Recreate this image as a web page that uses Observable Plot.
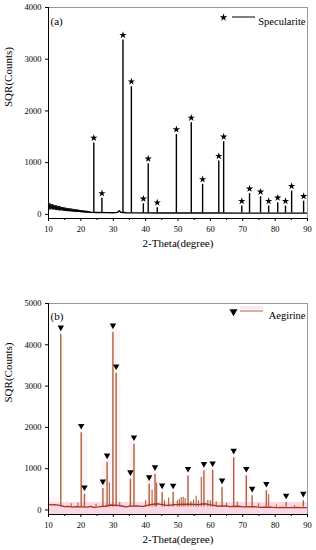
<!DOCTYPE html>
<html><head><meta charset="utf-8">
<script src="https://cdn.jsdelivr.net/npm/d3@7"></script>
<script src="https://cdn.jsdelivr.net/npm/@observablehq/plot@0.6"></script>
<style>
html,body{margin:0;padding:0;background:#fff;}
#chart{width:316px;height:550px;}
#chart svg{display:block;}
#chart svg text{font-family:'Liberation Serif','Times New Roman',serif !important;}
</style></head><body><div id="chart"></div>
<script>
// ---- shared axes ----
const xTicks = [10, 20, 30, 40, 50, 60, 70, 80, 90];
const xMinorTicks = [15, 25, 35, 45, 55, 65, 75, 85];
const xTitle = "2-Theta(degree)";
const yTitle = "SQR(Counts)";

// ---- panel (a): Specularite ----
const specYTicks = [0, 1000, 2000, 3000, 4000];
const specPeakTheta  = [24.0, 26.5, 33.0, 35.6, 39.3, 40.8, 43.6, 49.5, 54.1, 57.6, 62.6, 64.1, 69.7, 72.1, 75.5, 78.0, 80.8, 83.2, 85.1, 88.8];
const specPeakCounts = [1380, 310, 3370, 2470, 205, 980, 130, 1545, 1770, 580, 1030, 1405, 160, 400, 340, 160, 225, 160, 450, 255];
const specBgTheta  = [10, 11, 12, 13, 14, 15, 16, 17, 18, 19, 20, 21, 22, 23, 25, 28, 30, 31.3, 31.8, 32.3, 34, 38, 45, 50, 60, 70, 80, 90];
const specBgCounts = [150, 140, 128, 115, 105, 95, 86, 78, 70, 63, 56, 50, 45, 40, 36, 33, 30, 38, 70, 40, 30, 28, 26, 25, 25, 24, 24, 24];
const specNoiseTheta = [10, 10.5, 11, 11.5, 12, 12.5, 13, 13.5, 14, 15, 16, 17, 18, 19, 20, 21, 22, 23];
const specNoiseLo    = [100, 80, 95, 78, 84, 70, 76, 62, 68, 56, 52, 44, 42, 36, 34, 30, 28, 26];
const specNoiseHi    = [205, 215, 185, 190, 168, 172, 150, 155, 138, 128, 112, 108, 94, 88, 76, 68, 58, 50];

// ---- panel (b): Aegirine ----
const aegYTicks = [0, 1000, 2000, 3000, 4000, 5000];
const aegPeakTheta  = [13.8, 20.1, 21.1, 26.8, 28.1, 29.9, 30.9, 35.3, 36.4, 41.1, 42.9, 45.1, 48.5, 53.1, 58.0, 60.7, 63.6, 67.2, 71.1, 72.9, 77.3, 83.4, 88.7];
const aegPeakCounts = [4250, 1870, 380, 520, 1150, 4300, 3310, 745, 1590, 625, 865, 425, 420, 825, 945, 960, 545, 1265, 825, 345, 465, 180, 225];
const aegMinorTheta  = [17.0, 19.1, 24.7, 28.8, 32.0, 40.0, 42.0, 43.4, 45.8, 47.1, 49.8, 50.4, 51.0, 51.6, 52.2, 54.0, 54.8, 55.6, 56.3, 57.2, 59.2, 60.0, 61.8, 65.0, 68.3, 74.9, 78.0, 80.4, 86.0];
const aegMinorCounts = [150, 170, 140, 660, 180, 230, 480, 650, 220, 290, 220, 260, 300, 310, 280, 200, 240, 330, 220, 785, 230, 220, 200, 160, 190, 150, 370, 120, 110];
const aegBgTheta  = [10, 11, 12, 13, 13.5, 14.5, 15, 16, 17.5, 18.5, 20.5, 22, 23, 24, 25.5, 26, 27.5, 29.2, 31.5, 33, 34, 35, 37.5, 38.5, 39.5, 41.5, 43.8, 46.5, 48, 49, 53.5, 56, 58.5, 59.5, 61.2, 62.5, 64.5, 66, 68.8, 70, 73.5, 75.5, 76.5, 79, 81, 82, 84, 86.5, 88, 90];
const aegBgCounts = [135, 125, 130, 115, 110, 90, 80, 85, 70, 80, 75, 70, 85, 65, 75, 80, 90, 120, 110, 90, 75, 95, 100, 85, 90, 130, 150, 110, 120, 130, 140, 130, 150, 130, 110, 90, 100, 80, 90, 75, 80, 65, 70, 65, 55, 60, 55, 60, 55, 55];
const aegPinkX1  = [10, 19.8, 26.3, 29.4, 35.0, 40.5, 52.6, 56.8, 66.6, 70.5, 76.7];
const aegPinkX2  = [13.3, 22.3, 29.2, 32.2, 37.2, 44.0, 53.8, 61.4, 68.0, 72.0, 78.5];
const aegPinkTop = [300, 1900, 1200, 4350, 1650, 900, 850, 1000, 1300, 850, 500];
const aegPinkBandTop = 180;

const FONT = "'Liberation Serif', 'Times New Roman', serif";
const specColor = "#000";
const aegColor = "#b0603a";
const aegBaseColor = "#a8341f";
const pink = "#f9cfe0";

// downward-pointing triangle symbol
const triangleDown = {
  draw(context, size) {
    const s = Math.sqrt(size / 0.433);
    const h = s * Math.sqrt(3) / 2;
    context.moveTo(-s / 2, -h / 3);
    context.lineTo(s / 2, -h / 3);
    context.lineTo(0, 2 * h / 3);
    context.closePath();
  }
};

function legendLine(x1, x2, dyTop, color, withPink) {
  return (index, scales, values, dims) => {
    const g = d3.create("svg:g");
    const y = dims.marginTop + dyTop;
    if (withPink) g.append("rect").attr("x", x1).attr("y", y - 5).attr("width", x2 - x1).attr("height", 3).attr("fill", pink).attr("opacity", 0.5);
    g.append("line").attr("x1", x1).attr("x2", x2).attr("y1", y).attr("y2", y).attr("stroke", color).attr("stroke-width", 1);
    return g.node();
  };
}

function commonMarks(yDomain, yTicks, yTitleDy) {
  return [
    Plot.frame({stroke: "#9a9a9a"}),
    Plot.ruleX([10], {stroke: "#000", strokeWidth: 1}),
    Plot.ruleY([yDomain[0]], {stroke: "#000", strokeWidth: 1}),
    Plot.axisX({ticks: xTicks, tickSize: 3, tickPadding: 4.5, label: null, fontSize: 8.5}),
    Plot.axisX({ticks: xMinorTicks, tickSize: 2, tickFormat: () => "", label: null}),
    Plot.axisY({ticks: yTicks, tickSize: 3, tickPadding: 4, tickFormat: "d", label: null, fontSize: 8.5}),
    Plot.text([xTitle], {frameAnchor: "bottom", dy: 28, fontSize: 11}),
    Plot.text([yTitle], {frameAnchor: "left", rotate: -90, dx: -40.5, dy: yTitleDy, fontSize: 11})
  ];
}

// ---- panel (a) ----
const specPeaks = specPeakTheta.map((t, i) => ({theta: t, counts: specPeakCounts[i]}));
const specBg = specBgTheta.map((t, i) => ({theta: t, counts: specBgCounts[i]}));
const specNoise = specNoiseTheta.map((t, i) => ({theta: t, lo: specNoiseLo[i], hi: specNoiseHi[i]}));
const specDomain = [-80, 4000];

const plotA = Plot.plot({
  width: 316, height: 256,
  marginLeft: 48, marginRight: 9, marginTop: 7, marginBottom: 38,
  style: {fontFamily: FONT, fontSize: "8.5px", color: "#000", background: "#fff"},
  x: {domain: [10, 90]},
  y: {domain: specDomain},
  marks: [
    Plot.areaY(specNoise, {x: "theta", y1: "lo", y2: "hi", fill: "#1a1a1a", curve: "linear"}),
    Plot.line(specBg, {x: "theta", y: "counts", stroke: specColor, strokeWidth: 1.4}),
    Plot.ruleX(specPeaks, {x: "theta", y1: 25, y2: "counts", stroke: specColor, strokeWidth: 1.4}),
    Plot.dot(specPeaks, {x: "theta", y: "counts", symbol: "star", r: 2.3, fill: "#000", stroke: null, dy: -5}),
    ...commonMarks(specDomain, specYTicks, -6),
    Plot.text(["(a)"], {frameAnchor: "top-left", dx: 2, dy: 10, textAnchor: "start", fontSize: 11}),
    Plot.text(["Specularite"], {frameAnchor: "top-right", dx: -2, dy: 10, textAnchor: "end", fontSize: 10.5}),
    Plot.dot([0], {frameAnchor: "top-right", dx: -84, dy: 10, symbol: "star", r: 2.4, fill: "#000", stroke: null}),
    legendLine(232, 255, 10, specColor, false)
  ]
});

// ---- panel (b) ----
const aegPeaks = aegPeakTheta.map((t, i) => ({theta: t, counts: aegPeakCounts[i]}));
const aegMinor = aegMinorTheta.map((t, i) => ({theta: t, counts: aegMinorCounts[i]}));
const aegBg = aegBgTheta.map((t, i) => ({theta: t, counts: aegBgCounts[i]}));
const aegDomain = [-110, 5000];
const aegPink = aegPinkX1.map((x1, i) => ({x1, x2: aegPinkX2[i], top: aegPinkTop[i]}));

const plotB = Plot.plot({
  width: 316, height: 294,
  marginLeft: 48, marginRight: 9, marginTop: 47, marginBottom: 36,
  style: {fontFamily: FONT, fontSize: "8.5px", color: "#000", background: "#fff"},
  x: {domain: [10, 90]},
  y: {domain: aegDomain},
  marks: [
    Plot.rect(aegPink, {x1: "x1", x2: "x2", y1: aegDomain[0], y2: "top", fill: pink, fillOpacity: 0.22}),
    Plot.rect([aegPinkBandTop], {x1: 10, x2: 90, y1: aegDomain[0], y2: d => d, fill: pink, fillOpacity: 0.8}),
    Plot.ruleX(aegMinor, {x: "theta", y1: 70, y2: "counts", stroke: aegColor, strokeWidth: 1.1}),
    Plot.ruleX(aegPeaks, {x: "theta", y1: 70, y2: "counts", stroke: aegColor, strokeWidth: 1.4}),
    Plot.line(aegBg, {x: "theta", y: "counts", stroke: aegBaseColor, strokeWidth: 1.3}),
    Plot.dot(aegPeaks, {x: "theta", y: "counts", symbol: triangleDown, r: 2.4, fill: "#000", stroke: null, dy: -7}),
    ...commonMarks(aegDomain, aegYTicks, -6.5),
    Plot.text(["(b)"], {frameAnchor: "top-left", dx: 2, dy: 9, textAnchor: "start", fontSize: 11}),
    Plot.text(["Aegirine"], {frameAnchor: "top-right", dx: -2, dy: 8, textAnchor: "end", fontSize: 10.5}),
    Plot.dot([0], {frameAnchor: "top-right", dx: -74, dy: 8, symbol: triangleDown, r: 3, fill: "#000", stroke: null}),
    legendLine(240, 263, 8, aegColor, true)
  ]
});

document.getElementById("chart").append(plotA, plotB);
</script>
</body></html>
